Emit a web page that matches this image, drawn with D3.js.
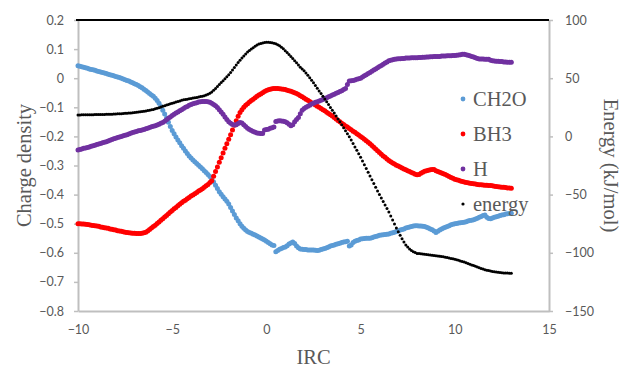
<!DOCTYPE html>
<html>
<head>
<meta charset="utf-8">
<script src="https://cdn.jsdelivr.net/npm/d3@7"></script>
<style>
  body { margin: 0; background: #fff; }
  svg { display: block; }
</style>
</head>
<body>
<div id="chart"></div>
<script>
// IRC step of 0.1 from -10 to 13
var irc = d3.range(231).map(function (i) { return Math.round((-10 + i * 0.1) * 10) / 10; });

var ch2o = [
	0.043, 0.041, 0.039, 0.038, 0.036, 0.034, 0.032, 0.030, 0.029, 0.027,
	0.025, 0.023, 0.021, 0.020, 0.018, 0.016, 0.014, 0.012, 0.010, 0.008,
	0.006, 0.004, 0.002, -0.000, -0.003, -0.005, -0.008, -0.010, -0.013, -0.016,
	-0.019, -0.022, -0.025, -0.029, -0.033, -0.038, -0.042, -0.047, -0.053, -0.058,
	-0.062, -0.069, -0.077, -0.086, -0.097, -0.110, -0.123, -0.137, -0.151, -0.166,
	-0.180, -0.191, -0.202, -0.212, -0.222, -0.232, -0.241, -0.250, -0.259, -0.267,
	-0.274, -0.281, -0.287, -0.293, -0.299, -0.305, -0.311, -0.318, -0.324, -0.331,
	-0.338, -0.347, -0.357, -0.368, -0.379, -0.390, -0.399, -0.407, -0.415, -0.423,
	-0.432, -0.444, -0.456, -0.468, -0.480, -0.490, -0.500, -0.509, -0.516, -0.522,
	-0.527, -0.530, -0.533, -0.536, -0.539, -0.542, -0.546, -0.549, -0.553, -0.556,
	-0.560, -0.565, -0.569, -0.573, -0.575, -0.596, -0.592, -0.588, -0.585, -0.582,
	-0.580, -0.576, -0.570, -0.566, -0.563, -0.568, -0.577, -0.583, -0.587, -0.588,
	-0.589, -0.589, -0.590, -0.590, -0.590, -0.590, -0.591, -0.592, -0.591, -0.589,
	-0.587, -0.585, -0.583, -0.580, -0.577, -0.575, -0.573, -0.571, -0.569, -0.567,
	-0.565, -0.563, -0.562, -0.560, -0.577, -0.573, -0.565, -0.560, -0.558, -0.556,
	-0.553, -0.552, -0.551, -0.550, -0.550, -0.550, -0.548, -0.546, -0.544, -0.542,
	-0.540, -0.539, -0.538, -0.537, -0.536, -0.535, -0.533, -0.531, -0.529, -0.527,
	-0.525, -0.522, -0.520, -0.518, -0.515, -0.513, -0.511, -0.510, -0.508, -0.507,
	-0.507, -0.508, -0.508, -0.509, -0.510, -0.512, -0.515, -0.518, -0.521, -0.525,
	-0.530, -0.526, -0.522, -0.518, -0.515, -0.512, -0.510, -0.507, -0.504, -0.502,
	-0.500, -0.499, -0.498, -0.497, -0.496, -0.495, -0.493, -0.491, -0.489, -0.488,
	-0.486, -0.484, -0.481, -0.478, -0.475, -0.472, -0.470, -0.478, -0.482, -0.483,
	-0.480, -0.478, -0.476, -0.474, -0.472, -0.470, -0.469, -0.467, -0.466, -0.465,
	-0.464
];

var bh3 = [
	-0.500, -0.500, -0.501, -0.501, -0.502, -0.503, -0.504, -0.505, -0.506, -0.507,
	-0.508, -0.509, -0.511, -0.512, -0.514, -0.515, -0.516, -0.518, -0.519, -0.521,
	-0.522, -0.524, -0.525, -0.526, -0.528, -0.529, -0.530, -0.531, -0.532, -0.533,
	-0.533, -0.534, -0.534, -0.534, -0.533, -0.531, -0.529, -0.525, -0.520, -0.515,
	-0.510, -0.505, -0.499, -0.494, -0.488, -0.483, -0.477, -0.472, -0.466, -0.460,
	-0.455, -0.449, -0.444, -0.438, -0.433, -0.428, -0.423, -0.419, -0.414, -0.410,
	-0.405, -0.401, -0.397, -0.393, -0.388, -0.384, -0.380, -0.375, -0.370, -0.365,
	-0.358, -0.352, -0.337, -0.321, -0.305, -0.289, -0.273, -0.257, -0.241, -0.225,
	-0.210, -0.194, -0.178, -0.162, -0.146, -0.131, -0.118, -0.108, -0.100, -0.093,
	-0.088, -0.082, -0.077, -0.072, -0.067, -0.062, -0.058, -0.054, -0.050, -0.046,
	-0.042, -0.040, -0.038, -0.036, -0.035, -0.035, -0.035, -0.036, -0.037, -0.038,
	-0.039, -0.041, -0.043, -0.045, -0.047, -0.050, -0.053, -0.056, -0.060, -0.064,
	-0.068, -0.072, -0.076, -0.080, -0.084, -0.088, -0.092, -0.096, -0.100, -0.104,
	-0.108, -0.112, -0.117, -0.121, -0.126, -0.130, -0.135, -0.140, -0.145, -0.150,
	-0.155, -0.159, -0.164, -0.168, -0.173, -0.177, -0.182, -0.186, -0.191, -0.195,
	-0.200, -0.205, -0.210, -0.215, -0.220, -0.225, -0.231, -0.237, -0.243, -0.249,
	-0.255, -0.261, -0.267, -0.272, -0.278, -0.283, -0.287, -0.291, -0.295, -0.299,
	-0.302, -0.305, -0.309, -0.312, -0.315, -0.318, -0.321, -0.324, -0.327, -0.330,
	-0.332, -0.331, -0.327, -0.323, -0.320, -0.318, -0.316, -0.315, -0.314, -0.314,
	-0.318, -0.321, -0.323, -0.326, -0.328, -0.331, -0.334, -0.338, -0.341, -0.344,
	-0.347, -0.349, -0.351, -0.353, -0.355, -0.357, -0.358, -0.359, -0.361, -0.362,
	-0.363, -0.364, -0.365, -0.366, -0.366, -0.367, -0.368, -0.368, -0.369, -0.369,
	-0.370, -0.371, -0.372, -0.373, -0.374, -0.375, -0.375, -0.376, -0.377, -0.377,
	-0.378
];

var hyd = [
	-0.247, -0.245, -0.243, -0.241, -0.240, -0.238, -0.236, -0.234, -0.232, -0.230,
	-0.228, -0.226, -0.224, -0.222, -0.220, -0.218, -0.216, -0.213, -0.211, -0.208,
	-0.206, -0.204, -0.202, -0.200, -0.198, -0.196, -0.194, -0.192, -0.189, -0.187,
	-0.185, -0.183, -0.181, -0.180, -0.178, -0.176, -0.174, -0.172, -0.169, -0.167,
	-0.165, -0.163, -0.161, -0.158, -0.155, -0.152, -0.148, -0.143, -0.138, -0.133,
	-0.128, -0.124, -0.120, -0.116, -0.112, -0.108, -0.104, -0.100, -0.097, -0.093,
	-0.090, -0.088, -0.086, -0.084, -0.082, -0.081, -0.080, -0.080, -0.080, -0.081,
	-0.083, -0.086, -0.090, -0.095, -0.101, -0.108, -0.116, -0.124, -0.133, -0.142,
	-0.150, -0.155, -0.159, -0.161, -0.160, -0.156, -0.152, -0.154, -0.160, -0.166,
	-0.172, -0.176, -0.180, -0.183, -0.186, -0.188, -0.189, -0.190, -0.190, -0.178,
	-0.176, -0.175, -0.172, -0.170, -0.168, -0.149, -0.147, -0.146, -0.147, -0.148,
	-0.150, -0.153, -0.158, -0.163, -0.160, -0.150, -0.142, -0.135, -0.122, -0.110,
	-0.104, -0.100, -0.096, -0.093, -0.089, -0.086, -0.083, -0.081, -0.078, -0.076,
	-0.073, -0.070, -0.067, -0.064, -0.061, -0.058, -0.055, -0.052, -0.049, -0.046,
	-0.043, -0.039, -0.035, -0.022, -0.010, -0.009, -0.008, -0.006, -0.004, -0.002,
	0.000, 0.004, 0.008, 0.012, 0.016, 0.020, 0.024, 0.028, 0.032, 0.036,
	0.040, 0.044, 0.048, 0.052, 0.056, 0.060, 0.062, 0.063, 0.065, 0.066,
	0.067, 0.067, 0.068, 0.068, 0.069, 0.069, 0.069, 0.070, 0.070, 0.070,
	0.070, 0.071, 0.071, 0.072, 0.072, 0.073, 0.073, 0.074, 0.074, 0.075,
	0.075, 0.075, 0.075, 0.076, 0.076, 0.076, 0.077, 0.077, 0.077, 0.078,
	0.078, 0.079, 0.080, 0.081, 0.082, 0.082, 0.081, 0.079, 0.077, 0.075,
	0.073, 0.070, 0.068, 0.066, 0.066, 0.066, 0.065, 0.065, 0.065, 0.062,
	0.060, 0.059, 0.058, 0.058, 0.057, 0.057, 0.056, 0.056, 0.055, 0.055,
	0.055
];

// kJ/mol, right axis
var energy = [
	18.4, 18.4, 18.5, 18.5, 18.6, 18.6, 18.6, 18.7, 18.7, 18.8,
	18.8, 18.8, 18.9, 18.9, 18.9, 19.0, 19.0, 19.1, 19.1, 19.2,
	19.3, 19.4, 19.5, 19.5, 19.6, 19.8, 19.9, 20.0, 20.2, 20.3,
	20.5, 20.7, 20.9, 21.1, 21.3, 21.6, 21.9, 22.2, 22.5, 22.8,
	23.2, 23.7, 24.2, 24.7, 25.2, 25.8, 26.4, 26.9, 27.5, 28.0,
	28.5, 29.0, 29.5, 30.0, 30.5, 31.0, 31.4, 31.7, 32.0, 32.3,
	32.6, 32.9, 33.2, 33.5, 33.9, 34.2, 34.6, 35.0, 35.6, 36.2,
	37.0, 38.2, 39.6, 41.1, 42.8, 44.5, 46.2, 47.9, 49.6, 51.3,
	53.0, 55.0, 57.1, 59.2, 61.4, 63.5, 65.4, 67.3, 69.1, 70.8,
	72.5, 73.8, 75.0, 76.2, 77.4, 78.5, 79.3, 79.9, 80.3, 80.6,
	80.8, 80.8, 80.7, 80.4, 80.0, 79.5, 78.8, 77.8, 76.6, 75.2,
	73.5, 72.0, 70.4, 68.7, 66.9, 65.0, 63.2, 61.4, 59.5, 58.0,
	56.5, 54.5, 52.5, 50.4, 48.2, 46.0, 43.8, 41.4, 39.1, 36.8,
	34.5, 32.1, 29.7, 27.3, 24.9, 22.5, 20.0, 17.5, 15.0, 12.5,
	10.0, 7.4, 4.8, 2.2, -0.4, -3.0, -6.0, -9.0, -12.0, -15.0,
	-18.0, -21.2, -24.4, -27.6, -30.8, -34.0, -37.2, -40.4, -43.6, -46.8,
	-50.0, -53.0, -56.0, -59.0, -62.0, -65.0, -68.4, -71.8, -75.2, -78.6,
	-82.0, -85.0, -88.0, -90.8, -93.2, -95.0, -96.7, -98.0, -99.0, -99.8,
	-100.5, -100.7, -100.9, -101.1, -101.3, -101.5, -101.7, -101.9, -102.1, -102.3,
	-102.5, -102.7, -103.0, -103.2, -103.5, -103.8, -104.1, -104.4, -104.8, -105.1,
	-105.5, -106.0, -106.5, -107.0, -107.5, -108.0, -108.6, -109.2, -109.8, -110.4,
	-111.0, -111.6, -112.2, -112.8, -113.4, -114.0, -114.5, -114.9, -115.3, -115.7,
	-116.0, -116.3, -116.5, -116.8, -117.0, -117.2, -117.3, -117.4, -117.4, -117.5,
	-117.5
];

var xTicks = [-10, -5, 0, 5, 10, 15];
var yLeftTicks = [0.2, 0.1, 0, -0.1, -0.2, -0.3, -0.4, -0.5, -0.6, -0.7, -0.8];
var yRightTicks = [100, 50, 0, -50, -100, -150];
var seriesNames = ['CH2O', 'BH3', 'H', 'energy'];
var seriesColors = ['#5b9bd5', '#ff0000', '#7030a0', '#000000'];

var width = 623, height = 372;
var margin = { top: 20, right: 74, bottom: 61, left: 78 };
var axisGray = '#bfbfbf', textGray = '#595959';
var tickFont = 'Lato, "Liberation Sans", sans-serif';
var titleFont = '"Liberation Serif", "Times New Roman", serif';

var svg = d3.select('#chart').append('svg')
	.attr('width', width)
	.attr('height', height);

var x = d3.scaleLinear().domain([-10, 15]).range([margin.left, width - margin.right]);
var yL = d3.scaleLinear().domain([-0.8, 0.2]).range([height - margin.bottom, margin.top]);
var yR = d3.scaleLinear().domain([-150, 100]).range([height - margin.bottom, margin.top]);

function styleAxis(g) {
	g.select('.domain').attr('stroke', axisGray).attr('stroke-width', 2);
	g.selectAll('.tick line').attr('stroke', axisGray).attr('stroke-width', 1.5);
	g.selectAll('.tick text')
		.attr('fill', textGray)
		.style('font-family', tickFont)
		.style('font-size', '12.5px');
}

// axes
svg.append('g')
	.attr('transform', 'translate(0,' + (height - margin.bottom) + ')')
	.call(d3.axisBottom(x).tickValues(xTicks).tickSize(0).tickPadding(14).tickFormat(d3.format('d')))
	.call(styleAxis);

svg.append('g')
	.attr('transform', 'translate(' + margin.left + ',0)')
	.call(d3.axisLeft(yL).tickValues(yLeftTicks).tickSize(4).tickSizeOuter(0).tickPadding(10)
		.tickFormat(function (d) { return d === 0 ? '0' : d3.format('.1f')(d); }))
	.call(styleAxis);

svg.append('g')
	.attr('transform', 'translate(' + (width - margin.right) + ',0)')
	.call(d3.axisRight(yR).tickValues(yRightTicks).tickSize(4).tickSizeOuter(0).tickPadding(12).tickFormat(d3.format('d')))
	.call(styleAxis);

// top border line
svg.append('line')
	.attr('x1', x(-10) - 2).attr('x2', x(15))
	.attr('y1', yL(0.2)).attr('y2', yL(0.2))
	.attr('stroke', '#000').attr('stroke-width', 2);

// series dots
var plot = svg.append('g');
[ch2o, bh3, hyd].forEach(function (vals, k) {
	plot.append('g').selectAll('circle')
		.data(vals)
		.join('circle')
		.attr('cx', function (d, i) { return x(irc[i]); })
		.attr('cy', function (d) { return yL(d); })
		.attr('r', 2.5)
		.attr('fill', seriesColors[k]);
});
plot.append('g').selectAll('circle')
	.data(energy)
	.join('circle')
	.attr('cx', function (d, i) { return x(irc[i]); })
	.attr('cy', function (d) { return yR(d); })
	.attr('r', 1.5)
	.attr('fill', seriesColors[3]);

// axis titles
svg.append('text')
	.attr('transform', 'translate(31,' + ((margin.top + height - margin.bottom) / 2) + ') rotate(-90)')
	.attr('text-anchor', 'middle')
	.attr('fill', textGray)
	.style('font-family', titleFont)
	.style('font-size', '20.5px')
	.text('Charge density');

svg.append('text')
	.attr('x', x(2.5))
	.attr('y', 364)
	.attr('text-anchor', 'middle')
	.attr('fill', textGray)
	.style('font-family', titleFont)
	.style('font-size', '20.5px')
	.text('IRC');

svg.append('text')
	.attr('transform', 'translate(604,' + ((margin.top + height - margin.bottom) / 2) + ') rotate(90)')
	.attr('text-anchor', 'middle')
	.attr('fill', textGray)
	.style('font-family', titleFont)
	.style('font-size', '20.5px')
	.text('Energy (kJ/mol)');

// legend
var legend = svg.append('g').attr('transform', 'translate(463,99)');
var items = legend.selectAll('g')
	.data(seriesNames)
	.join('g')
	.attr('transform', function (d, i) { return 'translate(0,' + (i * 35) + ')'; });
items.append('circle')
	.attr('r', function (d, i) { return i === 3 ? 1.6 : 2.4; })
	.attr('fill', function (d, i) { return seriesColors[i]; });
items.append('text')
	.attr('x', 10)
	.attr('dy', '0.35em')
	.attr('fill', textGray)
	.style('font-family', titleFont)
	.style('font-size', '20.5px')
	.text(function (d) { return d; });
</script>
</body>
</html>
